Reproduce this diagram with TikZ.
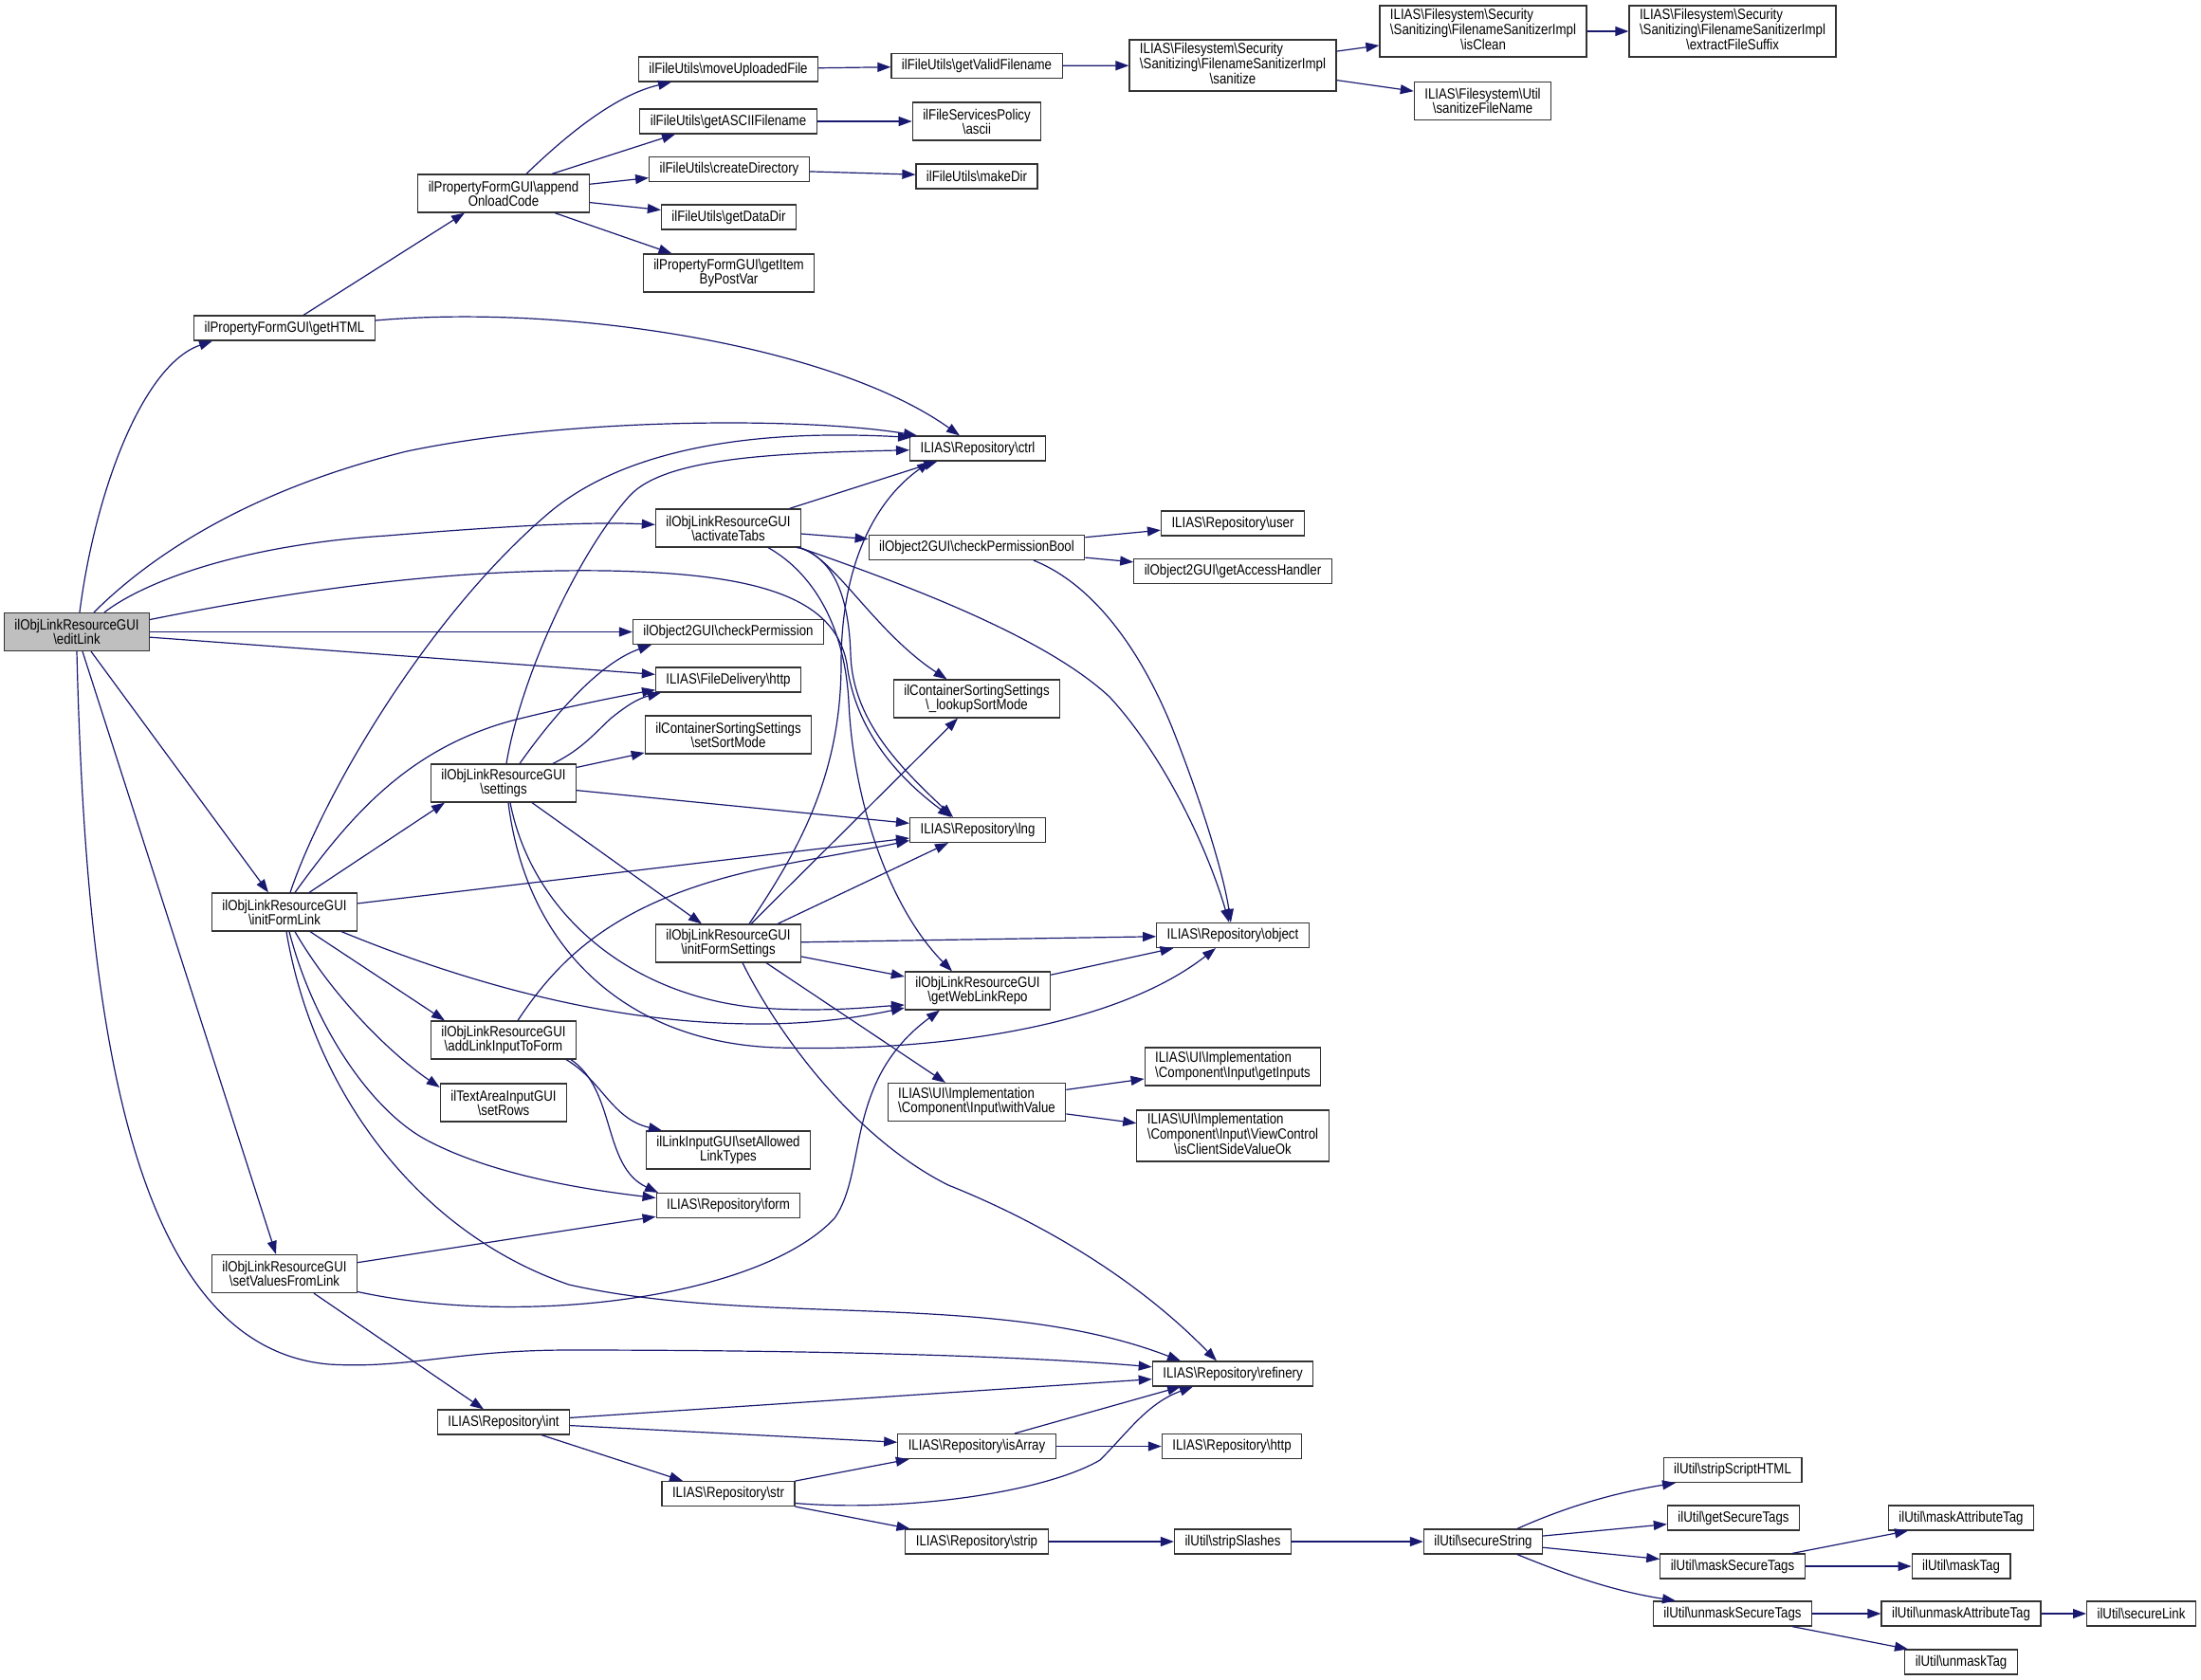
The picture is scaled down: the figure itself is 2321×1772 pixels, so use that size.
\documentclass[tikz,border=0pt]{standalone}
\usepackage{fontspec}
\setmainfont{Liberation Sans}[FakeStretch=0.85]
\usetikzlibrary{arrows.meta}

\definecolor{navy}{RGB}{25,25,112}
\newcommand\bs{\textbackslash}
\newcommand\fnsize{\fontsize{15.6}{15}\selectfont}
\newcommand\lblock[1]{\begin{tabular}{@{}l@{}}#1\end{tabular}}
\newcommand\crow[1]{\multicolumn{1}{@{}c@{}}{#1}}

\tikzset{
  fn/.style={draw=black!80, line width=1.2pt, fill=white, inner xsep=11pt, inner ysep=2pt,
    font=\fnsize, align=center, minimum height=26pt},
  fn2/.style={fn, minimum height=40pt},
  fn3/.style={fn, minimum height=54pt},
  root/.style={fn2, fill=black!25},
  call/.style={draw=navy, line width=1.2pt, -{Triangle[length=14pt,width=10pt]}},
}

\begin{document}
\begin{tikzpicture}[x=1pt,y=-1pt]
\useasboundingbox (0,0) rectangle (2321,1772);

% callers
\node[root] (E) at (81,666.5) {ilObjLinkResourceGUI\\\bs editLink};
\node[fn] (G) at (300,346) {ilPropertyFormGUI\bs getHTML};
\node[fn2] (F) at (300,962) {ilObjLinkResourceGUI\\\bs initFormLink};
\node[fn2] (SV) at (300,1343.5) {ilObjLinkResourceGUI\\\bs setValuesFromLink};
\node[fn2] (AO) at (531,204) {ilPropertyFormGUI\bs append\\OnloadCode};
\node[fn2] (S) at (531,826) {ilObjLinkResourceGUI\\\bs settings};
\node[fn2] (AL) at (531,1097) {ilObjLinkResourceGUI\\\bs addLinkInputToForm};
\node[fn2] (TR) at (531,1163) {ilTextAreaInputGUI\\\bs setRows};
\node[fn] (I) at (531,1500) {ILIAS\bs Repository\bs int};

\node[fn] (MU) at (768,73) {ilFileUtils\bs moveUploadedFile};
\node[fn] (GA) at (768,128) {ilFileUtils\bs getASCIIFilename};
\node[fn] (CD) at (769,178.5) {ilFileUtils\bs createDirectory};
\node[fn] (GD) at (768.5,229) {ilFileUtils\bs getDataDir};
\node[fn2] (GI) at (768.5,288) {ilPropertyFormGUI\bs getItem\\ByPostVar};
\node[fn2] (A) at (768,557) {ilObjLinkResourceGUI\\\bs activateTabs};
\node[fn] (CP) at (768,666.5) {ilObject2GUI\bs checkPermission};
\node[fn] (FH) at (768,717) {ILIAS\bs FileDelivery\bs http};
\node[fn2] (SS) at (768,775) {ilContainerSortingSettings\\\bs setSortMode};
\node[fn2] (IFS) at (768,995) {ilObjLinkResourceGUI\\\bs initFormSettings};
\node[fn2] (LT) at (768,1213) {ilLinkInputGUI\bs setAllowed\\LinkTypes};
\node[fn] (FM) at (768,1271.5) {ILIAS\bs Repository\bs form};
\node[fn] (ST) at (768,1575.5) {ILIAS\bs Repository\bs str};

\node[fn] (VF) at (1030,69.5) {ilFileUtils\bs getValidFilename};
\node[fn2] (AS) at (1030,128) {ilFileServicesPolicy\\\bs ascii};
\node[fn] (MD) at (1030,186) {ilFileUtils\bs makeDir};
\node[fn] (CT) at (1031,473) {ILIAS\bs Repository\bs ctrl};
\node[fn] (CPB) at (1030,577.5) {ilObject2GUI\bs checkPermissionBool};
\node[fn2] (LS) at (1030,737) {ilContainerSortingSettings\\\bs\_lookupSortMode};
\node[fn] (LN) at (1031,875.5) {ILIAS\bs Repository\bs lng};
\node[fn2] (WR) at (1031,1045) {ilObjLinkResourceGUI\\\bs getWebLinkRepo};
\node[fn2] (WV) at (1030,1162.5) {\lblock{ILIAS\bs UI\bs Implementation\\\bs Component\bs Input\bs withValue}};
\node[fn] (IA) at (1030,1525.5) {ILIAS\bs Repository\bs isArray};
\node[fn] (SP) at (1030,1626) {ILIAS\bs Repository\bs strip};

\node[fn3] (SZ) at (1300,69) {\lblock{ILIAS\bs Filesystem\bs Security\\\bs Sanitizing\bs FilenameSanitizerImpl\\\crow{\bs sanitize}}};
\node[fn] (US) at (1300,552) {ILIAS\bs Repository\bs user};
\node[fn] (AH) at (1300,602.5) {ilObject2GUI\bs getAccessHandler};
\node[fn] (OB) at (1300,986.5) {ILIAS\bs Repository\bs object};
\node[fn2] (GP) at (1300,1125) {\lblock{ILIAS\bs UI\bs Implementation\\\bs Component\bs Input\bs getInputs}};
\node[fn3] (CV) at (1300,1198) {\lblock{ILIAS\bs UI\bs Implementation\\\bs Component\bs Input\bs ViewControl\\\crow{\bs isClientSideValueOk}}};
\node[fn] (RF) at (1300,1449) {ILIAS\bs Repository\bs refinery};
\node[fn] (RH) at (1299,1525.5) {ILIAS\bs Repository\bs http};
\node[fn] (SL) at (1300,1626) {ilUtil\bs stripSlashes};

\node[fn3] (IC) at (1564,33) {\lblock{ILIAS\bs Filesystem\bs Security\\\bs Sanitizing\bs FilenameSanitizerImpl\\\crow{\bs isClean}}};
\node[fn2] (SF) at (1563.5,106.5) {ILIAS\bs Filesystem\bs Util\\\bs sanitizeFileName};
\node[fn] (SC) at (1564,1626) {ilUtil\bs secureString};

\node[fn3] (XF) at (1827,33) {\lblock{ILIAS\bs Filesystem\bs Security\\\bs Sanitizing\bs FilenameSanitizerImpl\\\crow{\bs extractFileSuffix}}};
\node[fn] (SH) at (1827,1550.5) {ilUtil\bs stripScriptHTML};
\node[fn] (GS) at (1828,1601) {ilUtil\bs getSecureTags};
\node[fn] (MS) at (1827,1652) {ilUtil\bs maskSecureTags};
\node[fn] (UM) at (1827,1702) {ilUtil\bs unmaskSecureTags};

\node[fn] (MA) at (2068,1601) {ilUtil\bs maskAttributeTag};
\node[fn] (MT) at (2068,1652) {ilUtil\bs maskTag};
\node[fn] (UA) at (2068,1702) {ilUtil\bs unmaskAttributeTag};
\node[fn] (UT) at (2068,1753) {ilUtil\bs unmaskTag};
\node[fn] (SK) at (2258,1702) {ilUtil\bs secureLink};

% straight calls
\path[every edge/.style={call}]
  (E) edge (CP)
  (E) edge (FH)
  ([xshift=15pt]E.south) edge ([xshift=-17pt]F.north)
  ([xshift=6pt]E.south) edge ([xshift=-9pt]SV.north)
  ([xshift=20pt]G.north) edge ([xshift=-41pt]AO.south)
  ([xshift=51pt]AO.north) edge ([xshift=-56pt]GA.south)
  (AO) edge (CD)
  (AO) edge (GD)
  ([xshift=54pt]AO.south) edge ([xshift=-60pt]GI.north)
  (MU) edge (VF)
  (VF) edge (SZ)
  (SZ) edge (IC)
  (SZ) edge (SF)
  (IC) edge (XF)
  (GA) edge (AS)
  (CD) edge (MD)
  (A) edge (CT)
  (A) edge (CPB)
  (CPB) edge (US)
  (CPB) edge (AH)
  (S) edge (SS)
  (S) edge (LN)
  ([xshift=30pt]S.south) edge ([xshift=-28pt]IFS.north)
  ([xshift=26pt]F.north) edge ([xshift=-62pt]S.south)
  (F) edge (LN)
  ([xshift=27pt]F.south) edge ([xshift=-62pt]AL.north)
  ([xshift=24pt]IFS.north) edge ([xshift=-20pt]LS.south)
  ([xshift=52pt]IFS.north) edge ([xshift=-31pt]LN.south)
  (IFS) edge (OB)
  ([yshift=-14pt]IFS.east) edge ([yshift=15pt]WR.west)
  ([xshift=40pt]IFS.south) edge ([xshift=-33pt]WV.north)
  (WR) edge (OB)
  (WV) edge (GP)
  (WV) edge (CV)
  (SV) edge (FM)
  ([xshift=31pt]SV.south) edge ([xshift=-21pt]I.north)
  (I) edge (RF)
  (I) edge (IA)
  ([xshift=40pt]I.south) edge ([xshift=-48pt]ST.north)
  (ST) edge (IA)
  (ST) edge (SP)
  ([xshift=40pt]IA.north) edge ([xshift=-55pt]RF.south)
  (IA) edge (RH)
  (SP) edge (SL)
  (SL) edge (SC)
  (SC) edge (GS)
  (SC) edge (MS)
  ([xshift=63pt]MS.north) edge ([xshift=-56pt]MA.south)
  (MS) edge (MT)
  (UM) edge (UA)
  ([xshift=63pt]UM.south) edge ([xshift=-56pt]UT.north)
  (UA) edge (SK);

% curved calls
\draw[call] ([xshift=3pt]E.north) .. controls (100,520) and (150,385) .. ([xshift=-76pt]G.south);
\draw[call] ([xshift=18pt]E.north) .. controls (150,595) and (250,520) .. (429,476)
  .. controls (600,440) and (850,440) .. ([xshift=-64pt]CT.north);
\draw[call] ([xshift=29pt]E.north) .. controls (150,615) and (250,575) .. (408,565)
  .. controls (530,555) and (620,550) .. (A);
\draw[call] ([yshift=13pt]E.east) .. controls (350,615) and (500,600) .. (640,602)
  .. controls (800,605) and (880,630) .. (893,700)
  .. controls (903,780) and (960,830) .. ([xshift=-28pt]LN.north);
\draw[call] (E.south) .. controls (90,1050) and (130,1420) .. (347,1439)
  .. controls (430,1444) and (480,1424) .. (600,1424)
  .. controls (900,1424) and (1100,1432) .. (RF);
\draw[call] ([yshift=8pt]G.east) .. controls (600,320) and (880,365) .. (CT);
\draw[call] ([xshift=24pt]AO.north) .. controls (600,140) and (650,100) .. ([xshift=-60pt]MU.south);

\draw[call] ([xshift=72pt]A.south) .. controls (875,580) and (920,665) .. (LS);
\draw[call] ([xshift=75pt]A.south) .. controls (880,590) and (895,630) .. (897,690)
  .. controls (899,760) and (950,810) .. ([xshift=-26pt]LN.north);
\draw[call] ([xshift=42pt]A.south) .. controls (850,600) and (890,650) .. (895,740)
  .. controls (900,850) and (940,960) .. ([xshift=-27pt]WR.north);
\draw[call] ([xshift=75pt]A.south) .. controls (950,615) and (1100,670) .. (1170,735)
  .. controls (1230,800) and (1275,900) .. (OB);
\draw[call] ([xshift=60pt]CPB.south) .. controls (1150,615) and (1200,680) .. (1235,765)
  .. controls (1265,840) and (1290,920) .. (OB);

\draw[call] ([xshift=6pt]F.north) .. controls (340,840) and (450,650) .. (580,540)
  .. controls (640,490) and (750,450) .. ([xshift=-70pt,yshift=-2pt]CT.north);
\draw[call] ([xshift=11pt]F.north) .. controls (370,860) and (430,790) .. (540,760)
  .. controls (600,745) and (650,735) .. ([xshift=-77pt,yshift=3pt]FH.south);
\draw[call] ([xshift=60pt]F.south) .. controls (500,1040) and (650,1080) .. (800,1080)
  .. controls (870,1080) and (920,1070) .. ([yshift=-18pt]WR.west);
\draw[call] ([xshift=11pt]F.south) .. controls (350,1050) and (410,1110) .. ([yshift=16pt]TR.west);
\draw[call] ([xshift=5pt]F.south) .. controls (330,1080) and (390,1170) .. (449,1202)
  .. controls (520,1240) and (620,1255) .. ([yshift=8pt]FM.west);
\draw[call] ([xshift=2pt]F.south) .. controls (330,1150) and (440,1300) .. (600,1355)
  .. controls (800,1400) and (1050,1360) .. ([xshift=-55pt]RF.north);

\draw[call] ([xshift=3pt]S.north) .. controls (548,720) and (605,590) .. (663,524)
  .. controls (700,482) and (820,478) .. (CT);
\draw[call] ([xshift=17pt]S.north) .. controls (580,760) and (630,700) .. ([xshift=-81pt]CP.south);
\draw[call] ([xshift=52pt]S.north) .. controls (615,790) and (630,770) .. (645,757)
  .. controls (660,745) and (672,737) .. ([xshift=-71pt]FH.south);
\draw[call] ([xshift=7pt]S.south) .. controls (560,960) and (660,1050) .. (800,1063)
  .. controls (870,1068) and (920,1062) .. ([yshift=-15pt]WR.west);
\draw[call] ([xshift=5pt]S.south) .. controls (555,1000) and (660,1100) .. (820,1105)
  .. controls (1000,1110) and (1180,1080) .. ([xshift=-18pt]OB.south);

\draw[call] ([xshift=22pt]IFS.north) .. controls (840,900) and (887,820) .. (887,700)
  .. controls (887,600) and (920,530) .. ([xshift=-50pt]CT.south);
\draw[call] ([xshift=15pt]IFS.south) .. controls (820,1090) and (900,1200) .. (1000,1250)
  .. controls (1100,1290) and (1200,1350) .. ([xshift=-17pt]RF.north);

\draw[call] ([xshift=15pt]AL.north) .. controls (590,1010) and (650,950) .. (800,917)
  .. controls (860,905) and (920,895) .. ([yshift=-11pt]LN.west);
\draw[call] ([xshift=66pt]AL.south) .. controls (635,1140) and (645,1180) .. ([xshift=-70pt]LT.north);
\draw[call] ([xshift=71pt]AL.south) .. controls (650,1150) and (635,1230) .. ([xshift=-74pt]FM.north);

\draw[call] ([yshift=-19pt]SV.east) .. controls (550,1400) and (800,1370) .. (880,1285)
  .. controls (915,1235) and (890,1140) .. ([xshift=-40pt]WR.south);
\draw[call] ([yshift=-10pt]ST.east) .. controls (950,1595) and (1100,1575) .. (1160,1540)
  .. controls (1190,1510) and (1210,1480) .. ([xshift=-42pt]RF.south);

\draw[call] ([xshift=36pt]SC.north) .. controls (1650,1590) and (1700,1575) .. ([xshift=-60pt]SH.south);
\draw[call] ([xshift=36pt]SC.south) .. controls (1650,1660) and (1700,1678) .. ([xshift=-60pt]UM.north);
\end{tikzpicture}
\end{document}
